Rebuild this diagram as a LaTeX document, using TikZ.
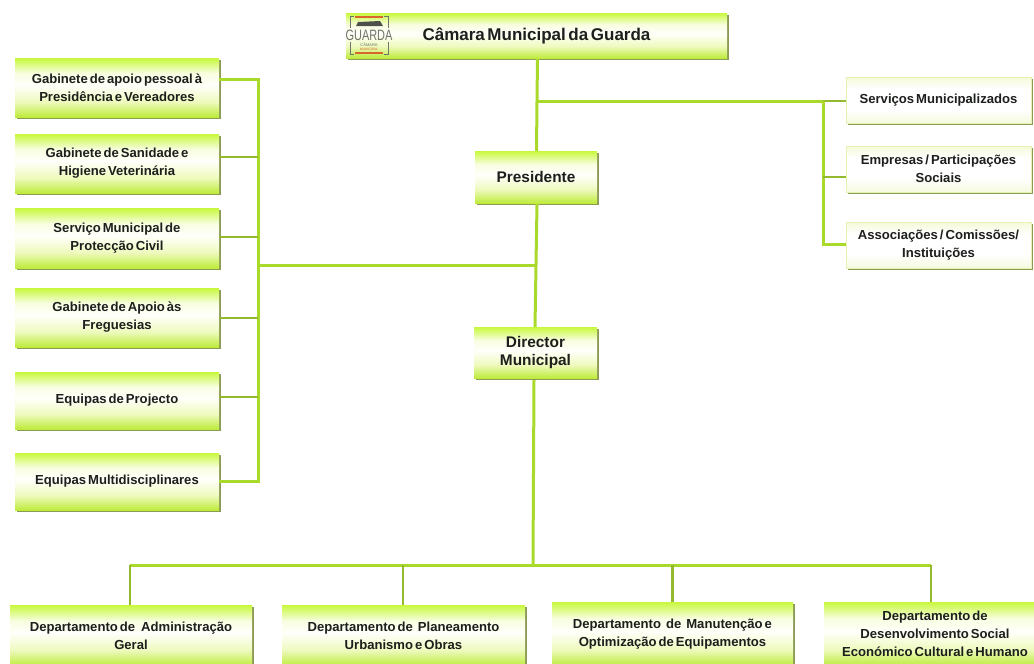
\documentclass[tikz,border=0pt]{standalone}
\usepackage{graphicx}
\usepackage{fontspec}
\setmainfont[WordSpace=0.55]{Liberation Sans}
\usetikzlibrary{calc}
\definecolor{linkcol}{HTML}{A9D92B}
\definecolor{linkdark}{HTML}{94B82E}
\definecolor{shadowcol}{HTML}{8B9A55}
\definecolor{txtcol}{HTML}{1C1F1C}
\definecolor{limeA}{RGB}{190,235,60}
\definecolor{limeB}{RGB}{238,250,190}
\definecolor{limeC}{RGB}{255,255,250}
\definecolor{limeD}{RGB}{248,254,225}
\definecolor{limeE}{RGB}{200,248,60}
\definecolor{paleA}{RGB}{245,250,222}
\definecolor{paleB}{RGB}{244,250,215}
\definecolor{paleEdge}{RGB}{228,242,180}
\definecolor{logored}{HTML}{D9662B}
\definecolor{logogrey}{HTML}{6F736A}
\pgfdeclareverticalshading{limebox}{100bp}{color(0bp)=(limeA);color(25bp)=(limeA);color(38bp)=(limeB);color(52bp)=(limeC);color(62bp)=(limeD);color(75bp)=(limeE);color(100bp)=(limeE)}
\pgfdeclareverticalshading{palebox}{100bp}{color(0bp)=(paleA);color(25bp)=(paleA);color(40bp)=(white);color(62bp)=(white);color(75bp)=(paleB);color(100bp)=(paleB)}
\newcommand{\bigtxt}{\fontsize{15.4}{23}\selectfont}
\tikzset{
  every node/.style={inner sep=0pt,outer sep=0pt},
  orgbox/.style={shading=limebox,align=center,text=txtcol,font=\fontsize{13.1}{18}\selectfont\bfseries},
  lightbox/.style={orgbox,shading=palebox,draw=paleEdge,line width=.6pt},
  link/.style={draw=linkcol,line width=3pt},
  thin link/.style={draw=linkdark,line width=2.4pt}
}
\newcommand{\orgnode}[7][orgbox]{%
  \pgfmathsetmacro{\bxw}{#4-#2}\pgfmathsetmacro{\bxh}{#5-#3}%
  \pgfmathsetmacro{\bxc}{(#4+#2)/2}\pgfmathsetmacro{\byc}{(#5+#3)/2}%
  \fill[shadowcol] (#2+1.6,#3+1.6) rectangle (#4+1.6,#5+1.6);
  \node[#1,minimum width=\bxw pt,minimum height=\bxh pt] (#6) at (\bxc,\byc) {#7};}
\begin{document}
\begin{tikzpicture}[x=1pt,y=-1pt]
\useasboundingbox (0,0) rectangle (1034,664);
% boxes
\orgnode{346}{13}{727}{58}{top}{\fontsize{17}{18}\selectfont Câmara Municipal da Guarda}
\orgnode{475}{151}{597}{203}{pres}{\bigtxt Presidente}
\orgnode{474}{327}{597}{378}{dir}{\bigtxt Director\\\bigtxt Municipal}
\orgnode{15}{58}{219}{117}{gab1}{Gabinete de apoio pessoal à\\Presidência e Vereadores}
\orgnode{15}{134}{219}{193}{gab2}{Gabinete de Sanidade e\\Higiene Veterinária}
\orgnode{15}{208}{219}{268}{gab3}{Serviço Municipal de\\Protecção Civil}
\orgnode{15}{288}{219}{347}{gab4}{Gabinete de Apoio às\\Freguesias}
\orgnode{15}{372}{219}{429}{gab5}{Equipas de Projecto}
\orgnode{15}{453}{219}{510}{gab6}{Equipas Multidisciplinares}
\orgnode[lightbox]{846}{77}{1031}{123}{serv}{Serviços Municipalizados}
\orgnode[lightbox]{846}{146}{1031}{192}{emp}{Empresas / Participações\\Sociais}
\orgnode[lightbox]{846}{222}{1031}{268}{assoc}{Associações / Comissões/\\Instituições}
\orgnode{10}{605}{252}{666}{dep1}{Departamento de\hspace{4pt} Administração\\Geral}
\orgnode{282}{605}{525}{666}{dep2}{Departamento de\hspace{3pt} Planeamento\\Urbanismo e Obras}
\orgnode{552}{602}{793}{666}{dep3}{Departamento\hspace{3pt} de\hspace{3pt} Manutenção e\\Optimização de Equipamentos}
\orgnode{824}{602}{1046}{666}{dep4}{Departamento de\\Desenvolvimento Social\\Económico Cultural e Humano}
% logo
\fill[logored] (355,15.5) rectangle (383,17.5);
\fill[logored] (355,52) rectangle (383,54);
\draw[logogrey,line width=.8pt] (350,28) |- (354,16) (388,28) |- (384,16) (350,42) |- (354,54) (388,42) |- (384,54);
\fill[logogrey!70!black] (356,26) -- (358,22) -- (380,21) -- (383,26) -- cycle;
\node[text=logogrey,font=\fontsize{15}{15}\selectfont] (logoName) at (369,35) {\scalebox{0.73}[1]{GUARDA}};
\node[text=logogrey,font=\fontsize{4}{4}\selectfont] (logoSub) at (369,44.5) {CÂMARA};
\node[text=logored,font=\fontsize{3.4}{4}\selectfont] (logoSub2) at (369,49) {MUNICIPAL};
% junctions
\coordinate (jTop) at (537.5,59);
\coordinate (jRight) at (537,101);
\coordinate (jPresN) at (536.5,151);
\coordinate (jPresS) at (537,204);
\coordinate (jRbus) at (823,101);
\coordinate (jEmp) at (823,177);
\coordinate (jAssoc) at (823,244);
\coordinate (jLeft) at (536,265);
\coordinate (jDirN) at (535,327);
\coordinate (jDirS) at (534,380);
\coordinate (jLbus) at (258,265);
\coordinate (jGabA) at (258,79);
\coordinate (jGabB) at (258,157);
\coordinate (jGabC) at (258,237);
\coordinate (jGabD) at (258,318);
\coordinate (jGabE) at (258,397);
\coordinate (jGabF) at (258,481);
\coordinate (jDown) at (533,565);
\coordinate (jDepA) at (130,565);
\coordinate (jDepB) at (403,565);
\coordinate (jDepC) at (672.5,565);
\coordinate (jDepD) at (931,565);
% connectors
\draw[link] (jTop) -- (jRight) -- (jPresN);
\draw[link] (jPresS) -- (jLeft) -- (jDirN);
\draw[link] (jDirS) -- (jDown);
\draw[link] (jRight) -- (jRbus);
\draw[thin link] (jRbus) -- (serv.west |- jRbus);
\draw[link] (jLeft) -- (jLbus);
\draw[link] (jRbus) -- (jAssoc) -- (assoc.west |- jAssoc);
\draw[thin link] (jEmp) -- (emp.west |- jEmp);
\draw[link] (gab1.east |- jGabA) -- (jGabA) -- (jGabF) -- (gab6.east |- jGabF);
\draw[thin link] (gab2.east |- jGabB) -- (jGabB);
\draw[thin link] (gab3.east |- jGabC) -- (jGabC);
\draw[thin link] (gab4.east |- jGabD) -- (jGabD);
\draw[thin link] (gab5.east |- jGabE) -- (jGabE);
\draw[link] (jDepA) -- (jDepD);
\draw[thin link] (jDepA) -- (dep1.north -| jDepA);
\draw[thin link] (jDepB) -- (dep2.north -| jDepB);
\draw[thin link] (jDepC) -- (dep3.north -| jDepC);
\draw[thin link] (jDepD) -- (dep4.north -| jDepD);
\end{tikzpicture}
\end{document}
